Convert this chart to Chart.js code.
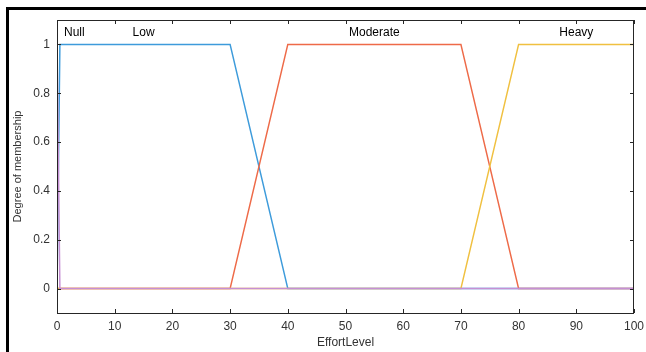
<!DOCTYPE html>
<html>
<head>
<meta charset="utf-8">
<script src="https://cdn.jsdelivr.net/npm/chart.js@4"></script>
<style>
  html, body { margin: 0; padding: 0; background: #fff; overflow: hidden; }
  #wrap { position: relative; width: 646px; height: 352px; }
  #frame { position: absolute; left: 6px; top: 7px; width: 700px; height: 400px; border: 3px solid #000; box-sizing: border-box; pointer-events: none; }
  canvas { position: absolute; left: 0; top: 0; }
</style>
</head>
<body>
<div id="wrap">
  <canvas id="chart" width="646" height="352"></canvas>
  <div id="frame"></div>
</div>
<script>
"use strict";

// membership functions for EffortLevel (x, degree)
const nullX = [0, 0.5, 100];
const nullY = [1, 0, 0];
const lowX = [0, 0.5, 30, 40, 100];
const lowY = [0, 1, 1, 0, 0];
const modX = [0, 30, 40, 70, 80, 100];
const modY = [0, 0, 1, 1, 0, 0];
const heavyX = [0, 70, 80, 100];
const heavyY = [0, 0, 1, 1];

const mfNames = ["Null", "Low", "Moderate", "Heavy"];
const labelX = [3, 15, 55, 90];
const labelY = 1.05;

const xTicks = [0, 10, 20, 30, 40, 50, 60, 70, 80, 90, 100];
const yTicks = [0, 0.2, 0.4, 0.6, 0.8, 1];

const pts = (xs, ys) => xs.map((x, i) => ({ x, y: ys[i] }));
const AXIS = "#262626";
const FONT = "'Liberation Sans', Arial, sans-serif";

// box, inward ticks and the mf names
const boxPlugin = {
  id: "box",
  afterDatasetsDraw(chart) {
    const { ctx, chartArea: a, scales } = chart;
    ctx.save();
    ctx.strokeStyle = AXIS;
    ctx.lineWidth = 1;
    ctx.strokeRect(a.left + 0.5, a.top + 0.5, a.right - a.left - 1, a.bottom - a.top);
    ctx.beginPath();
    for (const v of xTicks) {
      const px = Math.round(scales.x.getPixelForValue(v)) + 0.5;
      ctx.moveTo(px, a.bottom); ctx.lineTo(px, a.bottom - 4);
      ctx.moveTo(px, a.top); ctx.lineTo(px, a.top + 4);
    }
    for (const v of yTicks) {
      const py = Math.round(scales.y.getPixelForValue(v)) + 0.5;
      ctx.moveTo(a.left, py); ctx.lineTo(a.left + 4, py);
      ctx.moveTo(a.right, py); ctx.lineTo(a.right - 4, py);
    }
    ctx.stroke();
    ctx.fillStyle = "#000";
    ctx.font = "12px " + FONT;
    ctx.textAlign = "center";
    ctx.textBaseline = "middle";
    mfNames.forEach((n, i) => {
      ctx.fillText(n, scales.x.getPixelForValue(labelX[i]), scales.y.getPixelForValue(labelY));
    });
    ctx.restore();
  },
};

const line = (label, data, color) => ({
  label, data, borderColor: color, backgroundColor: color,
  borderWidth: 1.5, pointRadius: 0, showLine: true, tension: 0, fill: false,
});

// chart.js paints dataset 0 last, so Null (on top at y=0) goes first
new Chart(document.getElementById("chart"), {
  type: "scatter",
  data: {
    datasets: [
      line("Null", pts(nullX, nullY), "#c68fd4"),
      line("Heavy", pts(heavyX, heavyY), "#f0c040"),
      line("Moderate", pts(modX, modY), "#ee6a48"),
      line("Low", pts(lowX, lowY), "#3d9bdb"),
    ],
  },
  options: {
    responsive: false,
    animation: false,
    layout: { padding: { left: 0, top: 20, right: 12, bottom: 0 } },
    plugins: { legend: { display: false }, tooltip: { enabled: false } },
    scales: {
      x: {
        type: "linear", min: 0, max: 100,
        afterBuildTicks: (s) => { s.ticks = xTicks.map((v) => ({ value: v })); },
        afterFit: (s) => { s.height = 39; s.paddingLeft = 0; s.paddingRight = 0; },
        grid: { display: false, drawTicks: false },
        border: { display: false },
        ticks: { padding: 6, color: "#333", font: { family: FONT, size: 12 }, maxRotation: 0 },
        title: { display: true, text: "EffortLevel", color: "#333", padding: { top: 0, bottom: 2 }, font: { family: FONT, size: 12 } },
      },
      y: {
        type: "linear", min: -0.1, max: 1.1,
        afterBuildTicks: (s) => { s.ticks = yTicks.map((v) => ({ value: v })); },
        afterFit: (s) => { s.width = 57; s.paddingTop = 0; s.paddingBottom = 0; },
        grid: { display: false, drawTicks: false },
        border: { display: false },
        ticks: { padding: 7, color: "#333", font: { family: FONT, size: 12 }, callback: (v) => String(v) },
        title: { display: true, text: "Degree of membership", color: "#333", padding: { top: 11, bottom: 0 }, font: { family: FONT, size: 11 } },
      },
    },
  },
  plugins: [boxPlugin],
});
</script>
</body>
</html>
